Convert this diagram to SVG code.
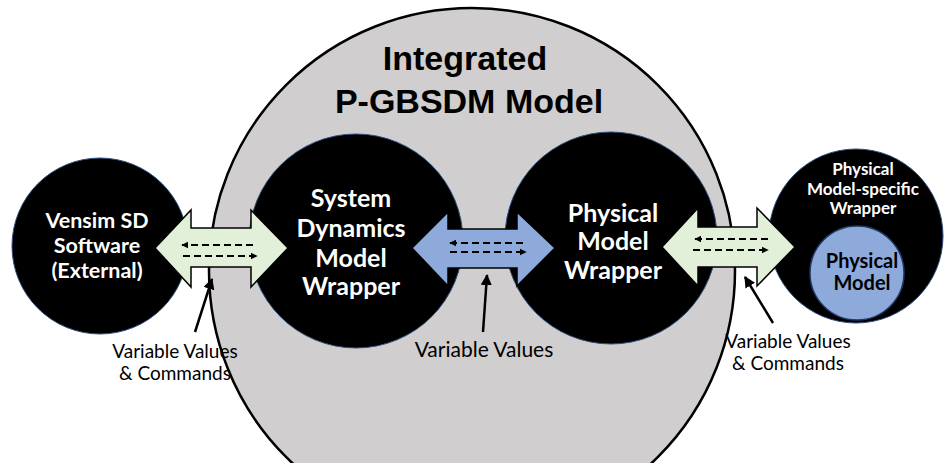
<svg xmlns="http://www.w3.org/2000/svg" width="945" height="463" viewBox="0 0 945 463">
<defs>
<style>
.bg{fill:#ffffff}
.outer{fill:#d0cece;stroke:#000;stroke-width:2.5}
.node{fill:#000;stroke:#2f4f80;stroke-width:1}
.inner{fill:#8eaadb;stroke:#1f3864;stroke-width:1.5}
.title{font-family:"Liberation Sans",Arial,sans-serif;font-weight:bold;font-size:34px;fill:#000;text-anchor:middle}
.lbl{font-family:Lato,"Noto Sans",sans-serif;font-weight:bold;fill:#fff;text-anchor:middle}
.dark{fill:#000}
.note{font-family:Lato,"Noto Sans",sans-serif;fill:#000;text-anchor:middle}
.green{fill:#e2efd9;stroke:#000;stroke-width:1.5;stroke-linejoin:miter}
.blue{fill:#8eaadb;stroke:#000;stroke-width:1.5;stroke-linejoin:miter}
.dash{stroke:#000;stroke-width:1.8;stroke-dasharray:7 4;fill:none}
.ptr{stroke:#000;stroke-width:2.5;fill:none}
</style>
<marker id="dh" viewBox="0 0 10 10" refX="9" refY="5" markerWidth="4" markerHeight="4" orient="auto-start-reverse" markerUnits="strokeWidth">
<path d="M0,0 L10,5 L0,10 Z" fill="#000"/>
</marker>
<marker id="ph" viewBox="0 0 10 10" refX="9" refY="5" markerWidth="4.5" markerHeight="4.5" orient="auto" markerUnits="strokeWidth">
<path d="M0,0 L10,5 L0,10 Z" fill="#000"/>
</marker>
</defs>
<rect class="bg" x="0" y="0" width="945" height="463"/>
<g id="integrated">
<circle class="outer" cx="472" cy="271" r="263"/>
<text class="title" x="465" y="70">Integrated</text>
<text class="title" x="469" y="113">P-GBSDM Model</text>
</g>
<g id="vensim">
<circle class="node" cx="100" cy="246" r="88"/>
<text class="lbl" font-size="21.5" x="97" y="228">Vensim SD</text>
<text class="lbl" font-size="21.5" x="97" y="253">Software</text>
<text class="lbl" font-size="21.5" x="97" y="278">(External)</text>
</g>
<g id="sd-wrapper">
<circle class="node" cx="356" cy="241" r="107"/>
<text class="lbl" font-size="25" x="351" y="207">System</text>
<text class="lbl" font-size="25" x="351" y="237">Dynamics</text>
<text class="lbl" font-size="25" x="351" y="267">Model</text>
<text class="lbl" font-size="25" x="351" y="295">Wrapper</text>
</g>
<g id="pm-wrapper">
<circle class="node" cx="611" cy="238" r="106"/>
<text class="lbl" font-size="25" x="613" y="222">Physical</text>
<text class="lbl" font-size="25" x="613" y="250">Model</text>
<text class="lbl" font-size="25" x="613" y="279">Wrapper</text>
</g>
<g id="pm-specific">
<circle class="node" cx="856" cy="236" r="87"/>
<text class="lbl" font-size="17" x="863" y="175">Physical</text>
<text class="lbl" font-size="17" x="863" y="195">Model-specific</text>
<text class="lbl" font-size="17" x="863" y="214">Wrapper</text>
</g>
<g id="physical-model">
<circle class="inner" cx="857" cy="273" r="47"/>
<text class="lbl dark" font-size="20" x="862" y="268">Physical</text>
<text class="lbl dark" font-size="20" x="862" y="290">Model</text>
</g>
<g id="connectors">
<path class="green" d="M155,248 L191,210 L191,228 L251,228 L251,210 L288,248 L251,287 L251,267 L191,267 L191,287 Z"/>
<line class="dash" x1="253" y1="245" x2="182" y2="245" marker-end="url(#dh)"/>
<line class="dash" x1="183" y1="256" x2="257" y2="256" marker-end="url(#dh)"/>
<path class="blue" d="M412,248 L448,212 L448,229 L517,229 L517,212 L555,248 L517,286 L517,268 L448,268 L448,286 Z"/>
<line class="dash" x1="523" y1="243" x2="450" y2="243" marker-end="url(#dh)"/>
<line class="dash" x1="450" y1="252" x2="526" y2="252" marker-end="url(#dh)"/>
<path class="green" d="M662,247 L698,208 L698,227 L757,227 L757,208 L795,247 L757,286 L757,267 L698,267 L698,286 Z"/>
<line class="dash" x1="768" y1="239" x2="695" y2="239" marker-end="url(#dh)"/>
<line class="dash" x1="693" y1="250" x2="768" y2="250" marker-end="url(#dh)"/>
<line class="ptr" x1="195" y1="332" x2="212" y2="279" marker-end="url(#ph)"/>
<line class="ptr" x1="483" y1="332" x2="487" y2="275" marker-end="url(#ph)"/>
<line class="ptr" x1="773" y1="323" x2="745" y2="277" marker-end="url(#ph)"/>
<text class="note" font-size="19" x="175" y="358">Variable Values</text>
<text class="note" font-size="19" x="175" y="380">&amp; Commands</text>
<text class="note" font-size="21" x="484" y="357">Variable Values</text>
<text class="note" font-size="19" x="788" y="348">Variable Values</text>
<text class="note" font-size="19" x="788" y="370">&amp; Commands</text>
</g>
</svg>
